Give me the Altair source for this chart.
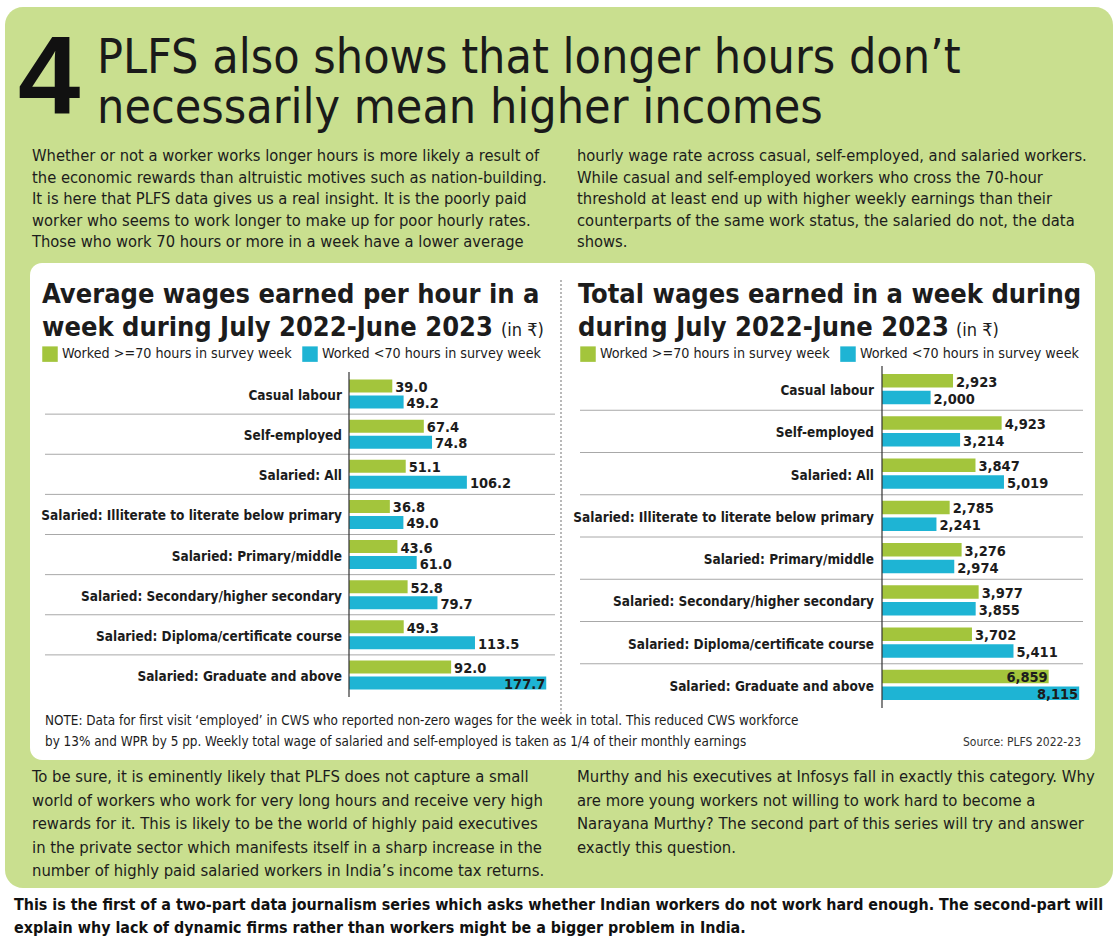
import altair as alt
import pandas as pd

W, H = 1116, 939

# ---------------- data ----------------
categories = [
    "Casual labour",
    "Self-employed",
    "Salaried: All",
    "Salaried: Illiterate to literate below primary",
    "Salaried: Primary/middle",
    "Salaried: Secondary/higher secondary",
    "Salaried: Diploma/certificate course",
    "Salaried: Graduate and above",
]
series = ["Worked >=70 hours in survey week", "Worked <70 hours in survey week"]

hourly_ge70 = [39.0, 67.4, 51.1, 36.8, 43.6, 52.8, 49.3, 92.0]
hourly_lt70 = [49.2, 74.8, 106.2, 49.0, 61.0, 79.7, 113.5, 177.7]
weekly_ge70 = [2923, 4923, 3847, 2785, 3276, 3977, 3702, 6859]
weekly_lt70 = [2000, 3214, 5019, 2241, 2974, 3855, 5411, 8115]

big_number = "4"
headline = ["PLFS also shows that longer hours don’t", "necessarily mean higher incomes"]
intro_left = [
    "Whether or not a worker works longer hours is more likely a result of",
    "the economic rewards than altruistic motives such as nation-building.",
    "It is here that PLFS data gives us a real insight. It is the poorly paid",
    "worker who seems to work longer to make up for poor hourly rates.",
    "Those who work 70 hours or more in a week have a lower average",
]
intro_right = [
    "hourly wage rate across casual, self-employed, and salaried workers.",
    "While casual and self-employed workers who cross the 70-hour",
    "threshold at least end up with higher weekly earnings than their",
    "counterparts of the same work status, the salaried do not, the data",
    "shows.",
]
left_title = ["Average wages earned per hour in a", "week during July 2022-June 2023"]
right_title = ["Total wages earned in a week during", "during July 2022-June 2023"]
unit_text = "(in ₹)"
note_lines = [
    "NOTE: Data for first visit ‘employed’ in CWS who reported non-zero wages for the week in total. This reduced CWS workforce",
    "by 13% and WPR by 5 pp. Weekly total wage of salaried and self-employed is taken as 1/4 of their monthly earnings",
]
source_text = "Source: PLFS 2022-23"
outro_left = [
    "To be sure, it is eminently likely that PLFS does not capture a small",
    "world of workers who work for very long hours and receive very high",
    "rewards for it. This is likely to be the world of highly paid executives",
    "in the private sector which manifests itself in a sharp increase in the",
    "number of highly paid salaried workers in India’s income tax returns.",
]
outro_right = [
    "Murthy and his executives at Infosys fall in exactly this category. Why",
    "are more young workers not willing to work hard to become a",
    "Narayana Murthy? The second part of this series will try and answer",
    "exactly this question.",
]
footer = [
    "This is the first of a two-part data journalism series which asks whether Indian workers do not work hard enough. The second-part will",
    "explain why lack of dynamic firms rather than workers might be a bigger problem in India.",
]

# ---------------- style ----------------
GREEN_BG = "#c9df8f"
BAR_GREEN = "#a3c53c"
BAR_CYAN = "#1eb4d4"
INK = "#1c1c1c"
NARROW = "DejaVu Sans Condensed"
WIDE = "Liberation Sans"

one = pd.DataFrame({"k": [0]})


def box(x, x2, y, y2, color, r):
    return alt.Chart(one).mark_rect(color=color, cornerRadius=r).encode(
        x=alt.value(x), x2=alt.value(x2), y=alt.value(y), y2=alt.value(y2)
    )


def text(lines, x, y, size, bold=False, lh=None, align="left", font=NARROW, color=INK):
    if isinstance(lines, str):
        lines = [lines]
    return alt.Chart(one).mark_text(
        text="\n".join(lines),
        lineBreak="\n",
        lineHeight=lh or size * 1.2,
        align=align,
        baseline="alphabetic",
        font=font,
        fontSize=size,
        fontWeight="bold" if bold else "normal",
        color=color,
    ).encode(x=alt.value(x), y=alt.value(y))


def panel(v1, v2, fmt, x0, px_per, dmax, y0, y1, sep_x0, sep_x1, label_x, leg_x, leg_y):
    n = len(categories)
    df = pd.DataFrame({
        "cat": categories * 2,
        "grp": [series[0]] * n + [series[1]] * n,
        "val": list(v1) + list(v2),
    })
    vmax = df["val"].max()
    df["lab"] = [format(v, fmt) for v in df["val"]]
    df["inside"] = df["val"] >= 0.8 * vmax

    xs = alt.Scale(domain=[0, dmax], range=[x0, x0 + dmax * px_per])
    ys = alt.Scale(domain=categories, range=[y0, y1], paddingInner=0, paddingOuter=0)
    yo = alt.Scale(domain=series, paddingInner=0.19, paddingOuter=0.35)
    cs = alt.Scale(domain=series, range=[BAR_GREEN, BAR_CYAN])

    base = alt.Chart(df)
    bars = base.mark_bar(cornerRadius=0).encode(
        x=alt.X("val:Q", scale=xs, axis=None),
        y=alt.Y("cat:N", scale=ys, axis=None),
        yOffset=alt.YOffset("grp:N", scale=yo),
        color=alt.Color(
            "grp:N", scale=cs,
            legend=alt.Legend(
                title=None, orient="none", legendX=leg_x, legendY=leg_y,
                direction="horizontal", symbolType="square", symbolSize=240,
                symbolStrokeWidth=0, labelFont=NARROW, labelFontSize=14.2,
                labelColor=INK, labelLimit=500, columnPadding=10, labelOffset=4,
                padding=0,
            ),
        ),
    )
    lab_style = dict(baseline="middle", dy=2, font=NARROW, fontSize=14.5,
                     fontWeight="bold", color=INK)
    enc = dict(
        x=alt.X("val:Q", scale=xs, axis=None),
        y=alt.Y("cat:N", scale=ys, axis=None),
        yOffset=alt.YOffset("grp:N", scale=yo),
        text="lab:N",
    )
    out_lab = base.transform_filter("!datum.inside").mark_text(
        align="left", dx=3, **lab_style).encode(**enc)
    in_lab = base.transform_filter("datum.inside").mark_text(
        align="right", dx=-1, **lab_style).encode(**enc)

    cat_df = pd.DataFrame({"cat": categories})
    cat_lab = alt.Chart(cat_df).mark_text(
        align="right", baseline="middle", dy=2, font=NARROW, fontSize=13.5,
        fontWeight="bold", color=INK,
    ).encode(
        y=alt.Y("cat:N", scale=ys, axis=None),
        x=alt.value(label_x),
        text="cat:N",
    )
    sep_df = pd.DataFrame({"cat": categories[1:]})
    seps = alt.Chart(sep_df).mark_rule(color="#a8a8a8", strokeWidth=1).encode(
        y=alt.Y("cat:N", scale=ys, axis=None, bandPosition=0),
        x=alt.value(sep_x0),
        x2=alt.value(sep_x1),
    )
    axis_line = alt.Chart(one).mark_rule(color="#333333", strokeWidth=1.2).encode(
        x=alt.value(x0), y=alt.value(y0 - 2), y2=alt.value(y1 + 2)
    )
    return alt.layer(seps, bars, axis_line, cat_lab, out_lab, in_lab)


left = panel(hourly_ge70, hourly_lt70, ".1f", 349, 1.11, 180, 374, 695, 45, 555, 342, 42, 346)
right = panel(weekly_ge70, weekly_lt70, ",d", 882, 0.0243, 8200, 368, 706, 580, 1083, 874, 580, 346)

layers = [
    box(5, 1113, 7, 888, GREEN_BG, 18),
    box(30, 1095, 263, 760, "#ffffff", 12),
    alt.Chart(one).mark_rule(color="#8a8a8a", strokeDash=[2, 2], strokeWidth=1.2).encode(
        x=alt.value(561), y=alt.value(280), y2=alt.value(722)
    ),
    text(big_number, 18, 114, 112, bold=True, font=WIDE, color="#111111"),
    text(headline[0], 97, 73, 48, color="#1a1a1a"),
    text(headline[1], 97, 123, 48, color="#1a1a1a"),
    text(intro_left, 32, 161, 16.4, lh=21.5),
    text(intro_right, 577, 161, 16.4, lh=21.5),
    text(left_title, 42, 303, 27, bold=True, lh=33),
    text(unit_text, 501, 336, 18),
    text(right_title, 578, 303, 27, bold=True, lh=33),
    text(unit_text, 956, 336, 18),
    text(note_lines, 45, 725, 13.4, lh=21),
    text(source_text, 1081, 746, 12, align="right", color="#333333"),
    text(outro_left, 32, 782, 16.5, lh=23.5),
    text(outro_right, 577, 782, 16.5, lh=23.5),
    text(footer, 14, 910, 15.9, bold=True, lh=23, color="#111111"),
    left,
    right,
]

chart = (
    alt.layer(*layers)
    .resolve_scale(x="independent", y="independent", color="independent", yOffset="independent")
    .resolve_legend(color="independent")
    .properties(width=W, height=H, autosize=alt.AutoSizeParams(type="none"), padding=0, background="white")
    .configure_view(stroke=None)
)

chart.save("out.html", embed_options={"renderer": "svg", "actions": False})
